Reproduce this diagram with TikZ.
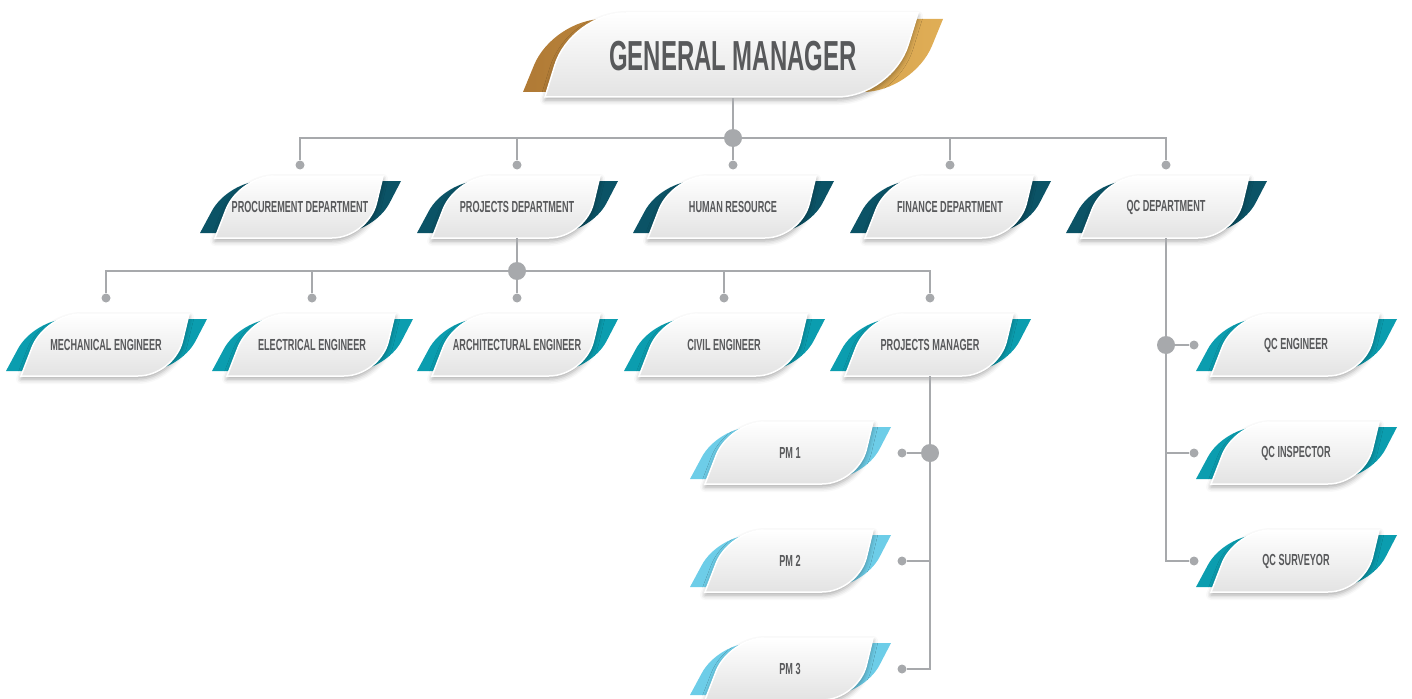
\documentclass[tikz,border=0pt]{standalone}
\usepackage{fontspec}
\newfontfamily\cardfont[FakeStretch=0.57]{Liberation Sans}
\usetikzlibrary{calc,shadows.blur}

\definecolor{linegray}{HTML}{A7A9AC}
\definecolor{textgray}{HTML}{58595B}
\definecolor{deptteal}{HTML}{0B5366}
\definecolor{engteal}{HTML}{0B9DAF}
\definecolor{pmblue}{HTML}{6DCDE8}
\definecolor{goldA}{HTML}{B07A35}
\definecolor{goldB}{HTML}{E0AE56}

% card: name, centre, backing colour, text
\newcommand\orgcard[4]{%
  \begin{scope}[shift={(#2)}]
    \fill[#3] (-100,26) -- ($(-72,-26)!34pt!(-100,26)$)
      .. controls ($(-72,-26)!15pt!(-100,26)$) and (-57,-26) .. (-38,-26)
      -- (101,-26) -- ($(74,26)!34pt!(101,-26)$)
      .. controls ($(74,26)!15pt!(101,-26)$) and (59,26) .. (40,26) -- cycle;
    \path[card] (-85,31) -- ($(-61,-31)!36pt!(-85,31)$)
      .. controls ($(-61,-31)!16pt!(-85,31)$) and (-45,-31) .. (-25,-31)
      -- (83,-31) -- ($(68,31)!36pt!(83,-31)$)
      .. controls ($(68,31)!16pt!(83,-31)$) and (52,31) .. (32,31) -- cycle;
  \end{scope}
  \node[cardtext] (#1) at (#2) {#4};
}

\begin{document}
\begin{tikzpicture}[x=1pt,y=-1pt]
    \tikzstyle{card}=[top color=white, bottom color=black!11, draw=white, line width=1.5pt,
      blur shadow={shadow xshift=0pt, shadow yshift=-3pt, shadow blur radius=5pt, shadow opacity=35}]
    \tikzstyle{cardtext}=[font=\cardfont\bfseries\fontsize{16}{16}\selectfont, text=textgray,
      inner sep=0pt, minimum width=150pt, minimum height=62pt]
    \tikzstyle{gmtext}=[font=\cardfont\bfseries\fontsize{42}{42}\selectfont, text=textgray,
      inner sep=0pt, minimum width=300pt, minimum height=84pt]
    \tikzstyle{hub}=[circle, fill=linegray, minimum size=18pt, inner sep=0pt]
    \tikzstyle{tip}=[circle, fill=linegray, minimum size=9pt, inner sep=0pt]
    \tikzstyle{wire}=[draw=linegray, line width=2pt]

    \useasboundingbox (0,0) rectangle (1412,698);

    % general manager
    \begin{scope}[shift={(733,56)}]
        \shade[left color=goldA, right color=goldB] (-210,36) -- ($(-180,-37)!50pt!(-210,36)$)
          .. controls ($(-180,-37)!22pt!(-210,36)$) and (-158,-37) .. (-130,-37)
          -- (210,-37) -- ($(180,36)!50pt!(210,-37)$)
          .. controls ($(180,36)!22pt!(210,-37)$) and (158,36) .. (130,36) -- cycle;
        \path[card] (-188,41) -- ($(-162,-43)!55pt!(-188,41)$)
          .. controls ($(-162,-43)!24pt!(-188,41)$) and (-138,-43) .. (-107,-43)
          -- (185,-43) -- ($(159,41)!55pt!(185,-43)$)
          .. controls ($(159,41)!24pt!(185,-43)$) and (135,41) .. (104,41) -- cycle;
    \end{scope}
    \node[gmtext] (gm) at (733,56) {GENERAL MANAGER};

    % departments
    \orgcard{procure}{300,207}{deptteal}{PROCUREMENT DEPARTMENT}
    \orgcard{projects}{517,207}{deptteal}{PROJECTS DEPARTMENT}
    \orgcard{hr}{733,207}{deptteal}{HUMAN RESOURCE}
    \orgcard{finance}{950,207}{deptteal}{FINANCE DEPARTMENT}
    \orgcard{qcdept}{1166,207}{deptteal}{QC DEPARTMENT}

    % engineers
    \orgcard{mech}{106,345}{engteal}{MECHANICAL ENGINEER}
    \orgcard{elec}{312,345}{engteal}{ELECTRICAL ENGINEER}
    \orgcard{arch}{517,345}{engteal}{ARCHITECTURAL ENGINEER}
    \orgcard{civil}{724,345}{engteal}{CIVIL ENGINEER}
    \orgcard{pmgr}{930,345}{engteal}{PROJECTS MANAGER}

    % project managers
    \orgcard{pm1}{790,453}{pmblue}{PM 1}
    \orgcard{pm2}{790,561}{pmblue}{PM 2}
    \orgcard{pm3}{790,669}{pmblue}{PM 3}

    % qc staff
    \orgcard{qceng}{1296,345}{engteal}{QC ENGINEER}
    \orgcard{qcinsp}{1296,453}{engteal}{QC INSPECTOR}
    \orgcard{qcsurv}{1296,561}{engteal}{QC SURVEYOR}

    % hubs and end dots
    \node[hub] (gmhub) at (733,138) {};
    \node[tip] (t-procure) at (300,165) {};
    \node[tip] (t-projects) at (517,165) {};
    \node[tip] (t-hr) at (733,165) {};
    \node[tip] (t-finance) at (950,165) {};
    \node[tip] (t-qcdept) at (1166,165) {};

    \node[hub] (projhub) at (517,271) {};
    \node[tip] (t-mech) at (106,298) {};
    \node[tip] (t-elec) at (312,298) {};
    \node[tip] (t-arch) at (517,298) {};
    \node[tip] (t-civil) at (724,298) {};
    \node[tip] (t-pmgr) at (930,298) {};

    \node[hub] (pmhub) at (930,453) {};
    \node[tip] (t-pm1) at (902,453) {};
    \node[tip] (t-pm2) at (902,561) {};
    \node[tip] (t-pm3) at (902,669) {};

    \node[hub] (qchub) at (1166,345) {};
    \node[tip] (t-qceng) at (1194,345) {};
    \node[tip] (t-qcinsp) at (1194,453) {};
    \node[tip] (t-qcsurv) at (1194,561) {};

    % connectors
    \draw[wire] (gm.south) -- (gmhub);
    \draw[wire] (gmhub) -| (t-procure);
    \draw[wire] (gmhub) -| (t-projects);
    \draw[wire] (gmhub) -- (t-hr);
    \draw[wire] (gmhub) -| (t-finance);
    \draw[wire] (gmhub) -| (t-qcdept);

    \draw[wire] (projects.south) -- (projhub);
    \draw[wire] (projhub) -| (t-mech);
    \draw[wire] (projhub) -| (t-elec);
    \draw[wire] (projhub) -- (t-arch);
    \draw[wire] (projhub) -| (t-civil);
    \draw[wire] (projhub) -| (t-pmgr);

    \draw[wire] (pmgr.south) -- (pmhub);
    \draw[wire] (pmhub) -- (t-pm1);
    \draw[wire] (pmhub) |- (t-pm2);
    \draw[wire] (pmhub) |- (t-pm3);

    \draw[wire] (qcdept.south) -- (qchub);
    \draw[wire] (qchub) -- (t-qceng);
    \draw[wire] (qchub) |- (t-qcinsp);
    \draw[wire] (qchub) |- (t-qcsurv);

\end{tikzpicture}
\end{document}
